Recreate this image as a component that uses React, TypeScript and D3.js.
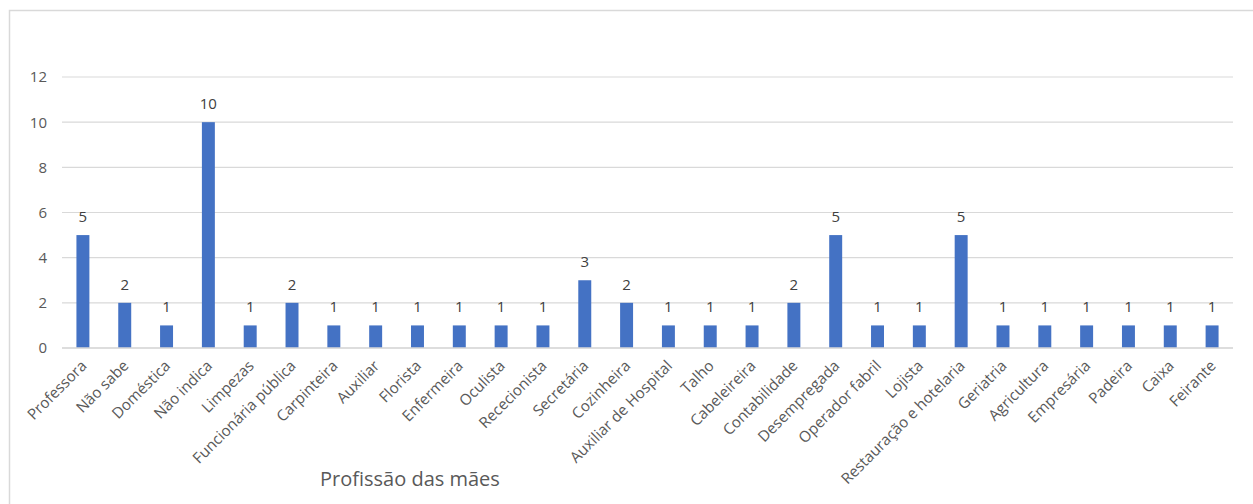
import React from "react";
import * as d3 from "d3";

const categories = [
  "Professora", "Não sabe", "Doméstica", "Não indica", "Limpezas",
  "Funcionária pública", "Carpinteira", "Auxiliar", "Florista", "Enfermeira",
  "Oculista", "Rececionista", "Secretária", "Cozinheira", "Auxiliar de Hospital",
  "Talho", "Cabeleireira", "Contabilidade", "Desempregada", "Operador fabril",
  "Lojista", "Restauração e hotelaria", "Geriatria", "Agricultura", "Empresária",
  "Padeira", "Caixa", "Feirante",
];
const counts = [
  5, 2, 1, 10, 1,
  2, 1, 1, 1, 1,
  1, 1, 3, 2, 1,
  1, 1, 2, 5, 1,
  1, 5, 1, 1, 1,
  1, 1, 1,
];
const yTicks = [0, 2, 4, 6, 8, 10, 12];
const axisTitle = "Profissão das mães";

const W = 1253;
const H = 504;
const FONT = "'Open Sans', sans-serif";
const TEXT = "#595959";
const GRID = "#d9d9d9";
const BAR = "#4472c4";

export default function App() {
  const left = 62;
  const right = 1233;
  const top = 77;
  const bottom = 348;

  const x = d3.scaleBand<string>().domain(categories).range([left, right]).paddingInner(0.69).paddingOuter(0.345);
  const y = d3.scaleLinear().domain([0, 12]).range([bottom, top]);

  return (
    <div style={{ position: "fixed", left: 0, top: 0 }}>
      <svg width={W} height={H} style={{ display: "block", background: "#fff" }}>
        <rect x={9.5} y={10.5} width={W + 10} height={H + 10} fill="#fff" stroke={GRID} strokeWidth={1.5} />
        {yTicks.map((t) => (
          <g key={t}>
            <line x1={left} x2={right} y1={y(t)} y2={y(t)} stroke={GRID} strokeWidth={1.2} />
            <text x={47} y={y(t)} dy="0.36em" textAnchor="end" fontFamily={FONT} fontSize={15} fill={TEXT}>
              {t}
            </text>
          </g>
        ))}
        {categories.map((c, i) => {
          const bx = x(c)!;
          const cx = bx + x.bandwidth() / 2;
          return (
            <g key={c}>
              <rect x={bx} y={y(counts[i])} width={x.bandwidth()} height={y(0) - y(counts[i])} fill={BAR} />
              <text x={cx} y={y(counts[i]) - 13} textAnchor="middle" fontFamily={FONT} fontSize={15} fill="#404040">
                {counts[i]}
              </text>
              <text
                transform={`translate(${cx + 1},${bottom + 15}) rotate(-45)`}
                textAnchor="end"
                dy="0.35em"
                fontFamily={FONT}
                fontSize={15.2}
                fill={TEXT}
              >
                {c}
              </text>
            </g>
          );
        })}
        <line x1={left} x2={right} y1={y(0)} y2={y(0)} stroke={GRID} strokeWidth={1.5} />
        <text x={320} y={486} fontFamily={FONT} fontSize={20} fill={TEXT}>
          {axisTitle}
        </text>
      </svg>
    </div>
  );
}
